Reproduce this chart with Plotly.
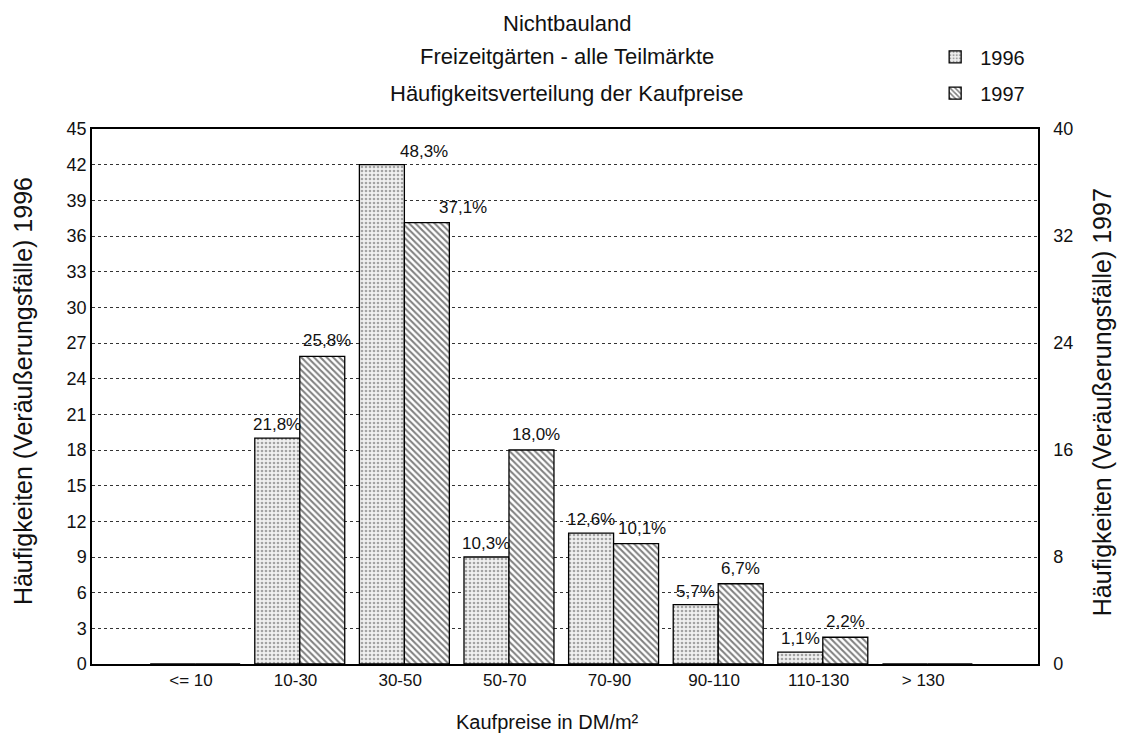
import plotly.graph_objects as go

categories = ["<= 10", "10-30", "30-50", "50-70", "70-90", "90-110", "110-130", "> 130"]
counts_1996 = [0, 19, 42, 9, 11, 5, 1, 0]
counts_1997 = [0, 23, 33, 16, 9, 6, 2, 0]
labels_1996 = ["", "21,8%", "48,3%", "10,3%", "12,6%", "5,7%", "1,1%", ""]
labels_1997 = ["", "25,8%", "37,1%", "18,0%", "10,1%", "6,7%", "2,2%", ""]
left_ticks = list(range(0, 46, 3))
right_ticks = list(range(0, 41, 8))

FONT = "Liberation Sans, Arial, sans-serif"

# bar geometry (style)
BAR_W = 0.43
OFF_96 = -0.39
OFF_97 = 0.04
CAT_PX = 104.6  # approx pixel width of one category
# label nudges in pixels for a couple of hand-placed labels (style)
nudge_96 = {"30-50": 42}
nudge_97 = {"30-50": 36, "10-30": 5, "50-70": 5, "70-90": 6}

fig = go.Figure()
fig.add_trace(go.Bar(
    x=categories, y=counts_1996, name="1996", showlegend=True,
    width=BAR_W, offset=OFF_96,
    marker=dict(color="white", line=dict(color="black", width=1.3),
                pattern=dict(shape=".", fgcolor="#555", bgcolor="#f0f0f0", size=4, solidity=0.35)),
    legend="legend",
))
fig.add_trace(go.Bar(
    x=categories, y=counts_1997, name="1997", showlegend=True,
    width=BAR_W, offset=OFF_97, yaxis="y2",
    marker=dict(color="white", line=dict(color="black", width=1.3),
                pattern=dict(shape="\\", fgcolor="black", bgcolor="white", size=4.5, solidity=0.45)),
    legend="legend2",
))

for cat, v, lab in zip(categories, counts_1996, labels_1996):
    if lab:
        fig.add_annotation(x=cat, y=v, xref="x", yref="y", text=lab, showarrow=False,
                           yanchor="bottom", yshift=2,
                           xshift=(OFF_96 + BAR_W / 2) * CAT_PX + nudge_96.get(cat, 0),
                           font=dict(size=17, color="#111"))
for cat, v, lab in zip(categories, counts_1997, labels_1997):
    if lab:
        fig.add_annotation(x=cat, y=v, xref="x", yref="y2", text=lab, showarrow=False,
                           yanchor="bottom", yshift=4,
                           xshift=(OFF_97 + BAR_W / 2) * CAT_PX + nudge_97.get(cat, 0),
                           font=dict(size=17, color="#111"))

# the page adds an 8px body margin; margins compensate for it
fig.update_layout(
    width=1128, height=748,
    margin=dict(l=84, r=98, t=121, b=92),
    paper_bgcolor="white", plot_bgcolor="white",
    font=dict(family=FONT, size=17, color="#111"),
    showlegend=True,
    xaxis=dict(range=[-0.946, 8.097], showline=True, linecolor="black", linewidth=1.5,
               mirror=True, ticks="", tickfont=dict(size=17), showgrid=False),
    yaxis=dict(range=[0, 45], tickvals=left_ticks, showline=True, linecolor="black",
               linewidth=1.5, showgrid=True, gridcolor="#333", griddash="dot", gridwidth=1,
               zeroline=False, ticks="", tickfont=dict(size=18)),
    yaxis2=dict(range=[0, 40], tickvals=right_ticks, overlaying="y", side="right",
                showline=True, linecolor="black", linewidth=1.5, showgrid=False,
                zeroline=False, ticks="", tickfont=dict(size=18), ticklabelstandoff=10),
    legend=dict(x=0.886, y=1.135, xanchor="left", yanchor="middle", bgcolor="rgba(0,0,0,0)",
                font=dict(size=20), itemwidth=40),
    legend2=dict(x=0.886, y=1.067, xanchor="left", yanchor="middle", bgcolor="rgba(0,0,0,0)",
                 font=dict(size=20), itemwidth=40),
)

annos = [
    ("Nichtbauland", 0.502, 1.198),
    ("Freizeitgärten - alle Teilmärkte", 0.502, 1.135),
    ("Häufigkeitsverteilung der Kaufpreise", 0.502, 1.067),
]
for t, x, y in annos:
    fig.add_annotation(text=t, x=x, y=y, xref="paper", yref="paper", showarrow=False,
                       font=dict(size=22), xanchor="center", yanchor="middle")

fig.add_annotation(text="Kaufpreise in DM/m²", x=0.482, y=-0.108, xref="paper", yref="paper",
                   showarrow=False, font=dict(size=20), xanchor="center", yanchor="middle")
fig.add_annotation(text="Häufigkeiten (Veräußerungsfälle) 1996", x=-0.073, y=0.51,
                   xref="paper", yref="paper", showarrow=False, textangle=-90,
                   font=dict(size=25), xanchor="center", yanchor="middle")
fig.add_annotation(text="Häufigkeiten (Veräußerungsfälle) 1997", x=1.067, y=0.49,
                   xref="paper", yref="paper", showarrow=False, textangle=-90,
                   font=dict(size=25), xanchor="center", yanchor="middle")

fig.write_html("out.html")
